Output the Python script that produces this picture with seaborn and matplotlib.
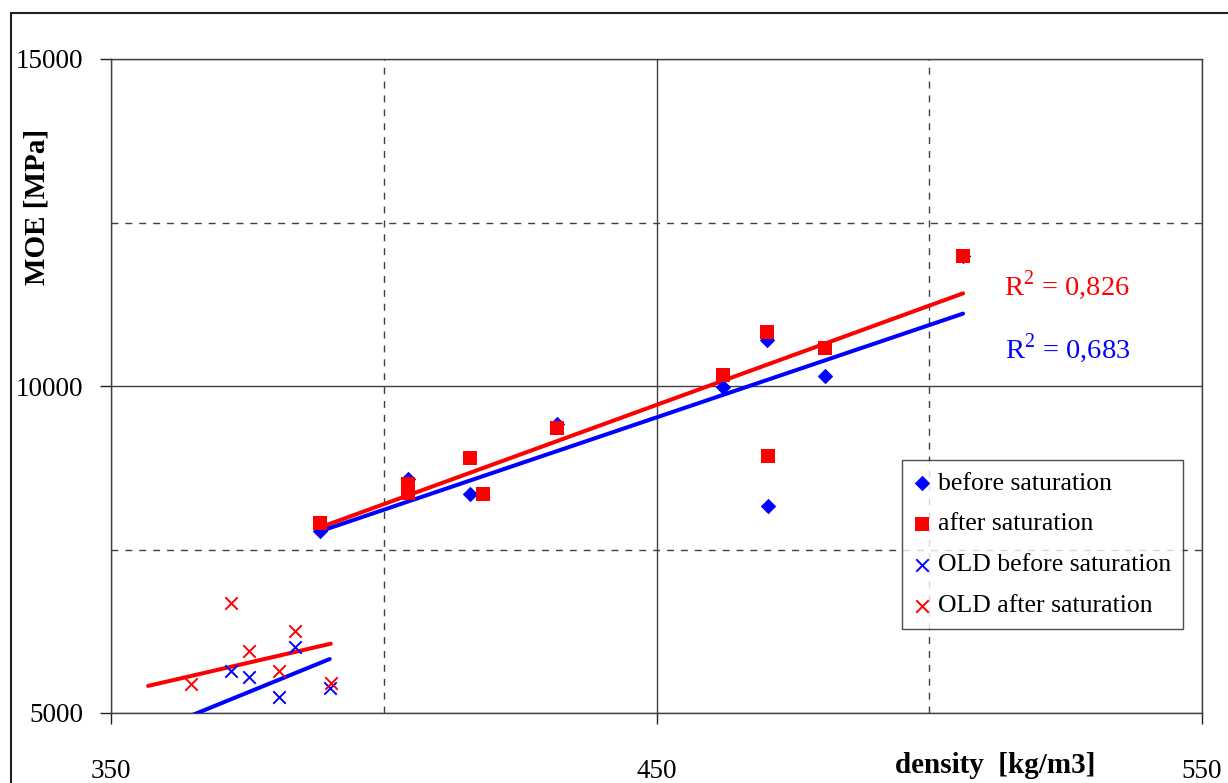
import numpy as np
import seaborn as sns
import matplotlib.pyplot as plt
from matplotlib.ticker import FixedLocator
from matplotlib.patches import Rectangle

# density [kg/m3] and MOE [MPa]
dens_before = [388.3, 404.4, 415.8, 431.8, 462.2, 470.3, 470.4, 480.9, 506.2]
moe_before = [7783, 8578, 8349, 9419, 9985, 10700, 8165, 10153, 11990]

dens_after = [388.3, 404.4, 404.4, 415.8, 418.2, 431.8, 462.2, 470.3, 470.4, 480.9, 506.2]
moe_after = [7905, 8502, 8364, 8899, 8349, 9358, 10168, 10826, 8930, 10581, 11988]

# OLD series (some points fall below the 5000 axis limit)
dens_old_before = [356.8, 364.7, 372.0, 375.3, 380.8, 383.7, 390.1]
moe_old_before = [4400, 4900, 5642, 5550, 5245, 6009, 5382]

dens_old_after = [356.8, 364.7, 372.0, 375.3, 380.8, 383.7, 390.3]
moe_old_after = [4900, 5443, 6682, 5948, 5642, 6254, 5459]

r2_after = "0,826"
r2_before = "0,683"

BLUE = "#0000ff"
RED = "#ff0000"

sns.set_style("white")
plt.rcParams['font.family'] = ['Liberation Serif', 'DejaVu Serif']
plt.rcParams['mathtext.fontset'] = 'custom'
plt.rcParams['mathtext.rm'] = 'Liberation Serif'
for key in ['text.color', 'axes.labelcolor', 'xtick.labelcolor', 'ytick.labelcolor']:
    plt.rcParams[key] = 'black'

fig = plt.figure(figsize=(12.28, 7.83), dpi=100)
ax = fig.add_axes([111 / 1228, 1 - 713 / 783, 1091 / 1228, 654 / 783])

# trend lines
line_kw = dict(scatter=False, ci=None, truncate=True, ax=ax)
sns.regplot(x=np.array(dens_after), y=np.array(moe_after), color=RED, line_kws=dict(lw=2.9, zorder=3), **line_kw)
sns.regplot(x=np.array(dens_before), y=np.array(moe_before), color=BLUE, line_kws=dict(lw=2.9, zorder=3), **line_kw)
sns.regplot(x=np.array(dens_old_after), y=np.array(moe_old_after), color=RED, line_kws=dict(lw=2.9, zorder=3), **line_kw)
sns.regplot(x=np.array(dens_old_before), y=np.array(moe_old_before), color=BLUE, line_kws=dict(lw=2.9, zorder=3), **line_kw)

# points
sns.scatterplot(x=dens_before, y=moe_before, marker='D', s=62, color=BLUE, edgecolor=BLUE,
                linewidth=0, label='before saturation', ax=ax, zorder=4)
sns.scatterplot(x=dens_after, y=moe_after, marker='s', s=95, color=RED, edgecolor=RED,
                linewidth=0, label='after saturation', ax=ax, zorder=4)
sns.scatterplot(x=dens_old_before, y=moe_old_before, marker='x', s=80, color=BLUE,
                linewidth=1.4, label='OLD before saturation', ax=ax, zorder=4)
sns.scatterplot(x=dens_old_after, y=moe_old_after, marker='x', s=80, color=RED,
                linewidth=1.4, label='OLD after saturation', ax=ax, zorder=4)

ax.set_xlim(350, 550)
ax.set_ylim(5000, 15000)

ax.xaxis.set_major_locator(FixedLocator([350, 450, 550]))
ax.xaxis.set_minor_locator(FixedLocator([400, 500]))
ax.yaxis.set_major_locator(FixedLocator([5000, 10000, 15000]))
ax.yaxis.set_minor_locator(FixedLocator([7500, 12500]))

ax.grid(which='major', color='#404040', lw=1.0, ls='-')
ax.grid(which='minor', color='#404040', lw=1.0, ls=(0, (5, 5)))
ax.set_axisbelow(True)

for side in ['left', 'bottom', 'right', 'top']:
    ax.spines[side].set_color('#404040')
    ax.spines[side].set_linewidth(1.0)

ax.tick_params(which='major', direction='out', length=8, width=1.0, color='#202020',
               left=True, bottom=True, labelsize=19.5)
ax.tick_params(which='minor', length=0)
ax.tick_params(axis='y', pad=12)
ax.tick_params(axis='x', pad=25)

ax.set_ylabel('MOE [MPa]', fontsize=21, fontweight='bold')
ax.yaxis.set_label_coords(-0.068, 0.774)
ax.yaxis.label.set_va('center')
ax.set_xlabel('density  [kg/m3]', fontsize=21, fontweight='bold')
ax.xaxis.set_label_coords(0.81, -0.081)
ax.xaxis.label.set_va('center')

ax.text(0.934, 0.654, r'R$^2$ = ' + r2_after, transform=ax.transAxes, color=RED,
        fontsize=20.5, ha='right', va='center')
ax.text(0.934, 0.558, r'R$^2$ = ' + r2_before, transform=ax.transAxes, color=BLUE,
        fontsize=20.5, ha='right', va='center')

leg = ax.legend(loc='upper right', bbox_to_anchor=(0.9826, 0.3869), borderaxespad=0,
                fontsize=18.5, frameon=True, fancybox=False, edgecolor='#202020',
                handlelength=0.6, handletextpad=0.35, labelspacing=0.7, borderpad=0.45)
leg.get_frame().set_linewidth(1.0)
leg.set_zorder(5)

# outer chart-area frame
fig.add_artist(Rectangle((11 / 1228, -0.05), 1.2, 1.05 - 13 / 783, transform=fig.transFigure,
                         fill=False, edgecolor='#202020', lw=1.5))

fig.savefig('out.png', dpi=100)
